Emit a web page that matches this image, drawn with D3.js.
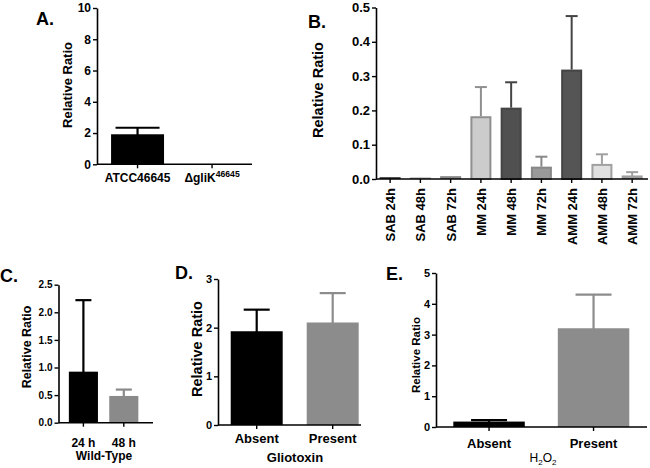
<!DOCTYPE html>
<html><head><meta charset="utf-8">
<script src="https://cdn.jsdelivr.net/npm/d3@7"></script>
<style>body{margin:0;background:#fff}svg{display:block}text{font-family:"Liberation Sans",Arial,sans-serif;font-weight:bold;fill:#000}</style>
</head><body>
<svg id="c" width="650" height="468"></svg>
<script>
// ---- Data ----
const catsA = ["ATCC46645", "ΔgliK46645"];
const valuesA = [1.87, 0];
const errA = [2.34, null];
const ticksA = [0, 2, 4, 6, 8, 10];

const catsB = ["SAB 24h","SAB 48h","SAB 72h","MM 24h","MM 48h","MM 72h","AMM 24h","AMM 48h","AMM 72h"];
const valuesB = [0.003, 0.002, 0.006, 0.183, 0.208, 0.036, 0.319, 0.044, 0.008];
const errB = [null, null, null, 0.268, 0.282, 0.065, 0.475, 0.072, 0.020];
const ticksB = [0, 0.1, 0.2, 0.3, 0.4, 0.5];

const catsC = ["24 h", "48 h"];
const valuesC = [0.91, 0.47];
const errC = [2.22, 0.60];
const ticksC = [0, 0.5, 1.0, 1.5, 2.0, 2.5];

const catsD = ["Absent", "Present"];
const valuesD = [1.91, 2.09];
const errD = [2.37, 2.71];
const ticksD = [0, 1, 2, 3];

const catsE = ["Absent", "Present"];
const valuesE = [0.15, 3.18];
const errE = [0.22, 4.30];
const ticksE = [0, 1, 2, 3, 4, 5];

// ---- Styles ----
const fillsB = ["#333","#aaa","#888","#cccccc","#505050","#9a9a9a","#555555","#e0e0e0","#dddddd"];
const strokesB = ["#333","#999","#888","#8f8f8f","#444","#888","#444","#a0a0a0","#a0a0a0"];

const svg = d3.select("#c");

function panel(o) {
  const g = svg.append("g");
  const y = d3.scaleLinear().domain(o.ydom).range(o.yr);
  const x = d3.scaleBand().domain(o.cats).range(o.xr).paddingInner(o.pad).paddingOuter(o.pad/2);
  o.cats.forEach((c, i) => {
    const v = o.values[i];
    const bx = x(c), bw = x.bandwidth(), cx = bx + bw/2;
    const col = o.strokes[i];
    if (v > 0) {
      const sw = o.barStroke || 0;
      const hgt = y(0) - y(v);
      if (sw && hgt > sw * 1.5) {
        g.append("rect")
          .attr("x", bx + sw/2).attr("width", bw - sw)
          .attr("y", y(v) + sw/2).attr("height", hgt - sw/2)
          .attr("fill", o.fills[i]).attr("stroke", col).attr("stroke-width", sw);
      } else {
        g.append("rect")
          .attr("x", bx).attr("width", bw)
          .attr("y", y(v) - 0.8).attr("height", hgt + 0.8)
          .attr("fill", sw ? col : o.fills[i]);
      }
    }
    if (o.err[i] != null) {
      g.append("line").attr("x1", cx).attr("x2", cx).attr("y1", y(v)).attr("y2", y(o.err[i]))
        .attr("stroke", col).attr("stroke-width", o.ew);
      g.append("line").attr("x1", cx - o.cap).attr("x2", cx + o.cap).attr("y1", y(o.err[i])).attr("y2", y(o.err[i]))
        .attr("stroke", col).attr("stroke-width", o.ew);
    }
  });
  const ya = g.append("g").attr("transform", `translate(${o.ax},0)`)
    .call(d3.axisLeft(y).tickValues(o.ticks).tickSize(4).tickSizeOuter(0).tickPadding(2).tickFormat(o.fmt));
  ya.select(".domain").attr("stroke-width", 1.6);
  ya.selectAll(".tick line").attr("stroke-width", 1.4);
  ya.selectAll("text").style("font-size", o.tfs + "px").style("font-family", '"Liberation Sans",Arial,sans-serif').style("font-weight", "bold");
  g.append("line").attr("x1", o.ax).attr("x2", o.axEnd).attr("y1", y(0)).attr("y2", y(0))
    .attr("stroke", "#000").attr("stroke-width", 1.6);
  const xa = g.append("g").attr("transform", `translate(0,${y(0)})`)
    .call(d3.axisBottom(x).tickSize(4).tickSizeOuter(0).tickFormat(""));
  xa.select(".domain").remove();
  xa.selectAll(".tick line").attr("stroke-width", 1.4);
  if (o.rotate) {
    o.cats.forEach(c => {
      const cx = x(c) + x.bandwidth()/2;
      g.append("text").attr("transform", `translate(${cx + 5},${y(0) + 9}) rotate(-90)`)
        .attr("text-anchor", "end").style("font-size", o.xfs + "px").text(c);
    });
  } else {
    o.cats.forEach(c => {
      const cx = x(c) + x.bandwidth()/2;
      const t = g.append("text").attr("x", cx).attr("y", o.xly).attr("text-anchor", "middle").style("font-size", o.xfs + "px");
      const m = c.match(/^(ΔgliK)(\d+)$/);
      if (m) {
        t.append("tspan").text(m[1]);
        t.append("tspan").attr("dy", -5).style("font-size", (o.xfs*0.72) + "px").text(m[2]);
      } else t.text(c);
    });
  }
  g.append("text").attr("transform", `translate(${o.ylx},${o.yly}) rotate(-90)`)
    .attr("text-anchor", "middle").style("font-size", o.yfs + "px").text("Relative Ratio");
  g.append("text").attr("x", o.lx).attr("y", o.ly).style("font-size", "18px").text(o.letter);
  return {g, x, y};
}

panel({cats: catsA, values: valuesA, err: errA, ticks: ticksA, ydom: [0, 10], yr: [164.3, 8],
  xr: [100.3, 249.3], pad: 0.289, ax: 97, axEnd: 252, fills: ["#000","#000"], strokes: ["#000","#000"],
  ew: 2.2, cap: 22, tfs: 12, fmt: d3.format("d"), xfs: 12, xly: 181.5, ylx: 72, yly: 85, yfs: 13,
  letter: "A.", lx: 36, ly: 25});

panel({cats: catsB, values: valuesB, err: errB, ticks: ticksB, ydom: [0, 0.5], yr: [179, 7.5],
  xr: [375, 647.3], pad: 0.306, ax: 376, axEnd: 648, fills: fillsB, strokes: strokesB, barStroke: 2,
  ew: 2, cap: 6, tfs: 13, fmt: d3.format(".1f"), xfs: 13, rotate: true, ylx: 323, yly: 90, yfs: 14.5,
  letter: "B.", lx: 308, ly: 28});

panel({cats: catsC, values: valuesC, err: errC, ticks: ticksC, ydom: [0, 2.5], yr: [422.7, 284.7],
  xr: [63.2, 144], pad: 0.28, ax: 58.5, axEnd: 153, fills: ["#000","#8a8a8a"], strokes: ["#000","#8a8a8a"],
  ew: 2.2, cap: 8, tfs: 10, fmt: d3.format(".1f"), xfs: 12, xly: 446.5, ylx: 30.5, yly: 347, yfs: 12.5,
  letter: "C.", lx: 0, ly: 282});
svg.append("text").attr("x", 104).attr("y", 460).attr("text-anchor", "middle").style("font-size", "12px").text("Wild-Type");

panel({cats: catsD, values: valuesD, err: errD, ticks: ticksD, ydom: [0, 3], yr: [425, 279],
  xr: [218.7, 370.7], pad: 0.316, ax: 218, axEnd: 361, fills: ["#000","#8c8c8c"], strokes: ["#000","#8c8c8c"],
  ew: 2.2, cap: 13, tfs: 11, fmt: d3.format("d"), xfs: 13, xly: 443, ylx: 201.5, yly: 349, yfs: 14.5,
  letter: "D.", lx: 175, ly: 279});
svg.append("text").attr("x", 295).attr("y", 462).attr("text-anchor", "middle").style("font-size", "13px").text("Gliotoxin");

panel({cats: catsE, values: valuesE, err: errE, ticks: ticksE, ydom: [0, 5], yr: [427, 273],
  xr: [436.8, 645.8], pad: 0.316, ax: 436, axEnd: 647, fills: ["#000","#8c8c8c"], strokes: ["#000","#8c8c8c"],
  ew: 2.2, cap: 18, tfs: 11, fmt: d3.format("d"), xfs: 13, xly: 447.5, ylx: 420, yly: 355, yfs: 11.5,
  letter: "E.", lx: 386, ly: 280});
const h = svg.append("text").attr("x", 543).attr("y", 462).attr("text-anchor", "middle").style("font-size", "12px").style("font-weight", "normal");
h.append("tspan").text("H");
h.append("tspan").attr("dy", 2.5).style("font-size", "8px").text("2");
h.append("tspan").attr("dy", -2.5).text("O");
h.append("tspan").attr("dy", 2.5).style("font-size", "8px").text("2");
</script>
</body></html>
